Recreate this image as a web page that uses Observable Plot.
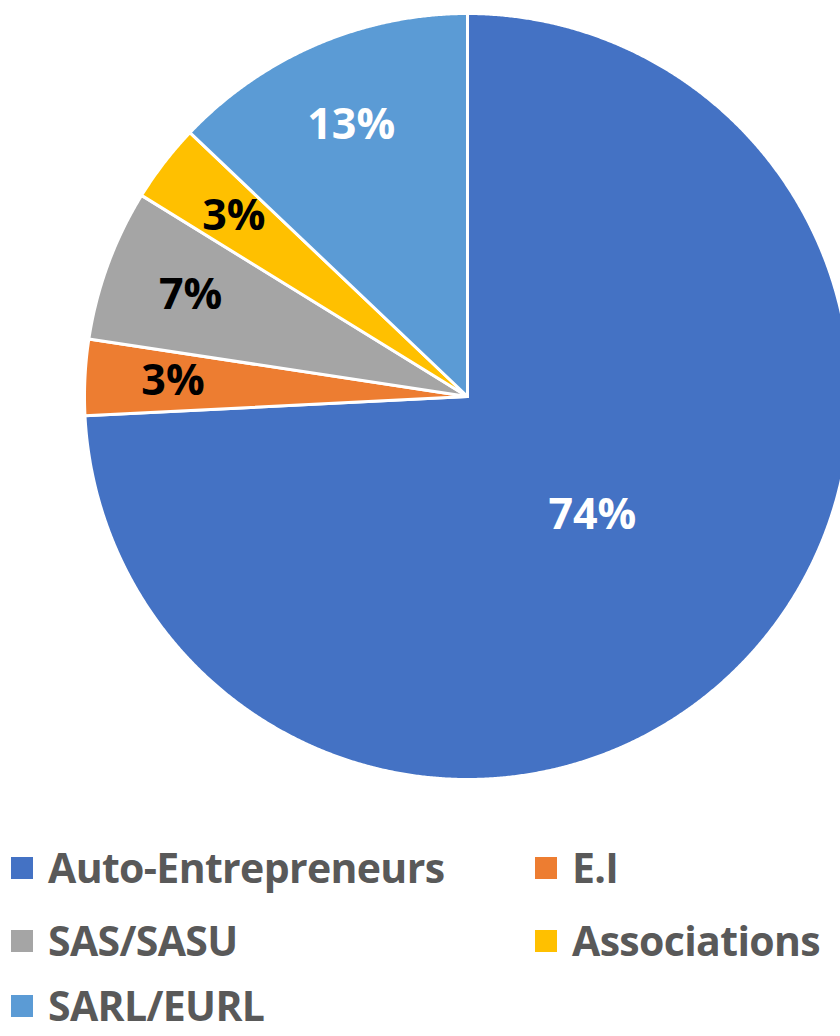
<!DOCTYPE html>
<html>
<head>
<meta charset="utf-8">
<script src="https://cdn.jsdelivr.net/npm/d3@7"></script>
<script src="https://cdn.jsdelivr.net/npm/@observablehq/plot@0.6"></script>
<style>
  html, body { margin: 0; padding: 0; background: #fff; }
  #wrap { width: 840px; position: relative; }
  #legend { position: relative; width: 840px; height: 236px; font-family: "Open Sans", sans-serif; font-weight: 700; color: #595959; }
  .item { position: absolute; height: 36px; line-height: 36px; font-size: 41px; letter-spacing: -0.65px; white-space: nowrap; }
  .sw { position: absolute; width: 22px; height: 22px; }
</style>
</head>
<body>
<div id="wrap"><div id="chart"></div><div id="legend"></div></div>
<script>
const names = ["Auto-Entrepreneurs", "E.I", "SAS/SASU", "Associations", "SARL/EURL"];
const shares = [74.2, 3.2, 6.4, 3.3, 12.9];
const labels = ["74%", "3%", "7%", "3%", "13%"];
const colors = ["#4472C4", "#ED7D31", "#A5A5A5", "#FFC000", "#5B9BD5"];
const darkLabel = [false, true, true, true, false];

const pie = d3.pie().sort(null).value(d => d)(shares);

const pts = [];
pie.forEach((p, i) => {
  pts.push({k: names[i], x: 0, y: 0});
  const n = Math.max(2, Math.ceil((p.endAngle - p.startAngle) / 0.004));
  for (let j = 0; j <= n; j++) {
    const a = p.startAngle + (p.endAngle - p.startAngle) * j / n;
    pts.push({k: names[i], x: Math.sin(a), y: Math.cos(a)});
  }
  pts.push({k: names[i], x: 0, y: 0});
});

const labelData = pie.map((p, i) => {
  const a = (p.startAngle + p.endAngle) / 2;
  const r = shares[i] > 50 ? 0.45 : 0.77;
  return {x: r * Math.sin(a), y: r * Math.cos(a), t: labels[i], dark: darkLabel[i]};
});

const chart = Plot.plot({
  width: 840,
  height: 800,
  margin: 0,
  x: {domain: [-1, 1], range: [84, 850], axis: null},
  y: {domain: [-1, 1], range: [779, 13], axis: null},
  color: {domain: names, range: colors},
  marks: [
    Plot.line(pts, {x: "x", y: "y", z: "k", fill: "k", stroke: "white", strokeWidth: 3, strokeLinejoin: "round"}),
    Plot.text(labelData.filter(d => !d.dark), {x: "x", y: "y", text: "t", fill: "white", fontSize: 43, fontWeight: "bold", fontFamily: "Open Sans"}),
    Plot.text(labelData.filter(d => d.dark), {x: "x", y: "y", text: "t", fill: "black", fontSize: 43, fontWeight: "bold", fontFamily: "Open Sans"})
  ]
});
document.getElementById("chart").appendChild(chart);

const legend = document.getElementById("legend");
const colLeft = [11, 535];
const rowCenter = [68, 141, 206];
names.forEach((name, i) => {
  const col = i % 2, row = Math.floor(i / 2);
  const sw = document.createElement("div");
  sw.className = "sw";
  sw.style.background = colors[i];
  sw.style.left = colLeft[col] + "px";
  sw.style.top = (rowCenter[row] - 11) + "px";
  legend.appendChild(sw);
  const it = document.createElement("div");
  it.className = "item";
  it.textContent = name;
  it.style.left = (colLeft[col] + 37) + "px";
  it.style.top = (rowCenter[row] - 19) + "px";
  legend.appendChild(it);
});
</script>
</body>
</html>
